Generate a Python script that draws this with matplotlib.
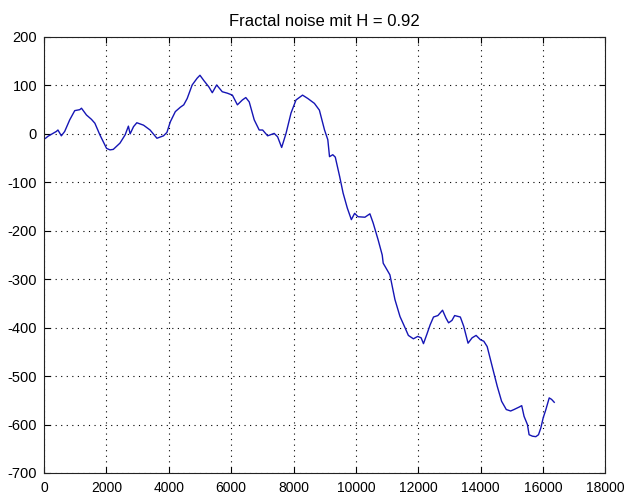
import matplotlib

matplotlib.use("Agg")
import matplotlib.pyplot as plt

# Samples (x = sample index, y = cumulative noise)
x_vals = [
    48, 124, 285, 393, 445, 554, 661, 823, 984, 1145, 1200, 1360, 1520, 1630,
    1790, 2005, 2115, 2220, 2435, 2600, 2705, 2760, 2870, 2975, 3190, 3400,
    3620, 3830, 3940, 4050, 4210, 4370, 4480, 4590, 4750, 4910, 5000, 5125,
    5285, 5395, 5535, 5715, 5880, 6040, 6200, 6360, 6470, 6580, 6740, 6900,
    7010, 7170, 7380, 7490, 7620, 7760, 7920, 8080, 8290, 8460, 8670, 8830,
    8995, 9100, 9155, 9260, 9340, 9480, 9590, 9725, 9855, 9960, 10070, 10290,
    10450, 10555, 10715, 10845, 10877, 10985, 11092, 11253, 11415, 11555,
    11684, 11845, 11985, 12093, 12168, 12275, 12383, 12490, 12630, 12780,
    12888, 12974, 13082, 13168, 13350, 13458, 13598, 13727, 13856, 13996,
    14103, 14211, 14372, 14534, 14674, 14824, 14964, 15071, 15233, 15319,
    15394, 15502, 15556, 15663, 15771, 15857, 15932, 16008, 16094, 16201,
    16276, 16362,
]
y_vals = [
    -9, -5, 1, 5, 8, -4, 5, 29, 48, 50, 53, 39, 30, 22,
    -2, -30, -33, -32, -19, -2, 16, 0, 15, 23, 18, 8,
    -9, -4, 3, 25, 46, 55, 60, 73, 101, 115, 121, 110,
    97, 85, 101, 87, 84, 80, 60, 70, 75, 66, 29, 8,
    8, -4, 1, -6, -28, 1, 43, 70, 80, 73, 63, 49,
    8, -12, -47, -43, -48, -88, -122, -153, -177, -164, -171, -172,
    -165, -184, -219, -250, -267, -279, -291, -342, -377, -397,
    -416, -423, -418, -421, -433, -414, -394, -378, -375, -364,
    -380, -390, -385, -375, -378, -397, -432, -421, -416, -425,
    -428, -439, -480, -521, -552, -569, -572, -569, -564, -561,
    -583, -600, -621, -624, -625, -621, -607, -586, -569, -545,
    -548, -554,
]

x_ticks = list(range(0, 18001, 2000))
y_ticks = list(range(-700, 201, 100))
title = "Fractal noise mit H = 0.92"

plt.rcParams["font.family"] = ["Liberation Sans", "DejaVu Sans"]
plt.rcParams["axes.unicode_minus"] = False

fig = plt.figure(figsize=(6.25, 5.0), dpi=100)
ax = fig.add_axes([0.0705, 0.054, 0.898, 0.872])

ax.plot(x_vals, y_vals, color="#1515b5", lw=1.0)

ax.set_xlim(0, 18000)
ax.set_ylim(-700, 200)
ax.set_xticks(x_ticks)
ax.set_yticks(y_ticks)
ax.grid(True, color="black", linestyle=(0, (1, 4)), lw=0.8)
ax.tick_params(direction="in", length=4, labelsize=10.5, top=True, right=True,
               labeltop=False, labelright=False)
ax.tick_params(axis="x", pad=6, labelsize=10)
ax.tick_params(axis="y", pad=5)
for s in ax.spines.values():
    s.set_linewidth(0.8)
    s.set_color("#222222")
ax.set_title(title, fontsize=12, pad=8)

fig.savefig("out.png", dpi=100)
